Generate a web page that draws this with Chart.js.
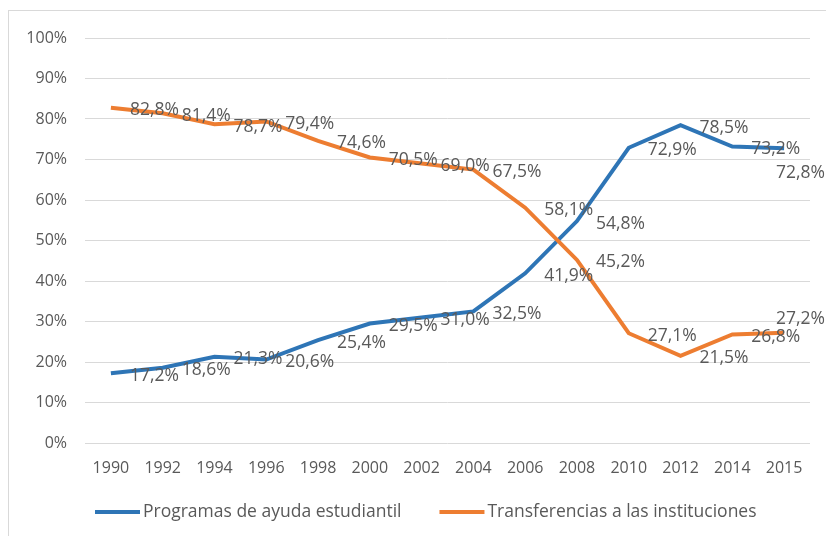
<!DOCTYPE html>
<html>
<head>
<meta charset="utf-8">
<script src="https://cdn.jsdelivr.net/npm/chart.js@4/dist/chart.umd.min.js"></script>
<style>
  html, body { margin: 0; padding: 0; background: #ffffff; }
  #wrap { width: 826px; height: 536px; }
</style>
</head>
<body>
<div id="wrap"><canvas id="c" width="826" height="536"></canvas></div>
<script>
const years = ["1990","1992","1994","1996","1998","2000","2002","2004","2006","2008","2010","2012","2014","2015"];
const programasAyuda = [17.2, 18.6, 21.3, 20.6, 25.4, 29.5, 31.0, 32.5, 41.9, 54.8, 72.9, 78.5, 73.2, 72.8];
const transferencias = [82.8, 81.4, 78.7, 79.4, 74.6, 70.5, 69.0, 67.5, 58.1, 45.2, 27.1, 21.5, 26.8, 27.2];
const seriesNames = ["Programas de ayuda estudiantil", "Transferencias a las instituciones"];

const FONT = "'Open Sans', 'Noto Sans', sans-serif";
const TEXT = "#595959";

const fmt = v => v.toFixed(1).replace(".", ",") + "%";

const frame = {
  id: "frame",
  beforeDraw(chart) {
    const ctx = chart.ctx;
    ctx.save();
    ctx.fillStyle = "#ffffff";
    ctx.fillRect(0, 0, chart.width, chart.height);
    ctx.strokeStyle = "#d9d9d9";
    ctx.lineWidth = 1;
    ctx.strokeRect(8.5, 10.5, chart.width + 20, chart.height + 20);
    ctx.restore();
  }
};

const valueLabels = {
  id: "valueLabels",
  afterDatasetsDraw(chart) {
    const ctx = chart.ctx;
    ctx.save();
    ctx.font = "17.5px " + FONT;
    ctx.fillStyle = TEXT;
    ctx.textAlign = "left";
    ctx.textBaseline = "middle";
    chart.data.datasets.forEach((ds, di) => {
      const meta = chart.getDatasetMeta(di);
      meta.data.forEach((pt, i) => {
        const txt = fmt(ds.data[i]);
        const w = ctx.measureText(txt).width;
        let x = pt.x + 19;
        let y = pt.y + 2.5;
        if (x + w > chart.width - 1) {
          x = chart.width - w - 1;
          y += ds.edgeShift || 0;
        }
        ctx.fillText(txt, x, y);
      });
    });
    ctx.restore();
  }
};

const bottomLegend = {
  id: "bottomLegend",
  afterDraw(chart) {
    const ctx = chart.ctx;
    ctx.save();
    ctx.font = "17.5px " + FONT;
    ctx.textAlign = "left";
    ctx.textBaseline = "middle";
    const y = 512;
    let x = 95;
    chart.data.datasets.forEach((ds) => {
      ctx.strokeStyle = ds.borderColor;
      ctx.lineWidth = 4;
      ctx.lineCap = "butt";
      ctx.beginPath();
      ctx.moveTo(x, y);
      ctx.lineTo(x + 45, y);
      ctx.stroke();
      ctx.fillStyle = TEXT;
      ctx.fillText(ds.label, x + 48, y);
      x += 48 + ctx.measureText(ds.label).width + 38;
    });
    ctx.restore();
  }
};

new Chart(document.getElementById("c"), {
  type: "line",
  data: {
    labels: years,
    datasets: [
      {
        label: seriesNames[0],
        data: programasAyuda,
        borderColor: "#2e75b6",
        backgroundColor: "#2e75b6",
        borderWidth: 4,
        pointRadius: 0,
        tension: 0,
        order: 1,
        edgeShift: 22
      },
      {
        label: seriesNames[1],
        data: transferencias,
        borderColor: "#ed7d31",
        backgroundColor: "#ed7d31",
        borderWidth: 4,
        pointRadius: 0,
        tension: 0,
        order: 0,
        edgeShift: -16
      }
    ]
  },
  options: {
    responsive: false,
    devicePixelRatio: 1,
    animation: false,
    layout: { padding: { left: 8, right: 16, top: 38, bottom: 51 } },
    plugins: {
      tooltip: { enabled: false },
      legend: { display: false }
    },
    scales: {
      x: {
        offset: true,
        grid: { display: false, drawTicks: false },
        border: { display: false },
        ticks: { font: { family: FONT, size: 16 }, color: TEXT, padding: 16, maxRotation: 0, autoSkip: false },
        afterFit(scale) { scale.height = 42; }
      },
      y: {
        min: 0,
        max: 100,
        grid: { color: "#d9d9d9", lineWidth: 1, drawTicks: false },
        border: { display: false },
        ticks: {
          stepSize: 10,
          font: { family: FONT, size: 16 },
          color: TEXT,
          padding: 18,
          callback: v => v + "%"
        },
        afterFit(scale) { scale.width = 77; }
      }
    }
  },
  plugins: [frame, valueLabels, bottomLegend]
});
</script>
</body>
</html>
